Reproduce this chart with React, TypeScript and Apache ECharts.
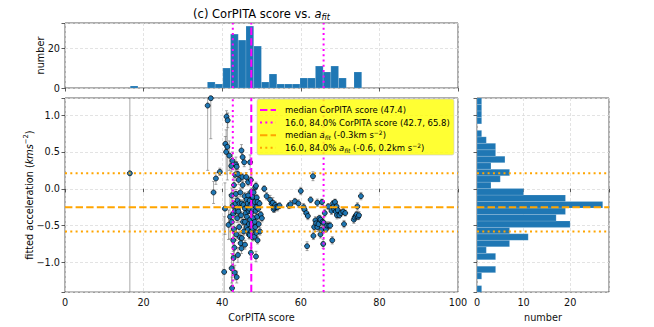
import React, { useEffect, useRef } from "react";
import * as echarts from "echarts";

// ---------- data ----------
const scoreRange = [0, 100];
const accelRange = [-1.404, 1.233];

const scoreBinMin = 16.6;
const scoreBinMax = 75.5;
const scoreCounts = [1, 0, 0, 0, 0, 0, 0, 0, 0, 0, 3, 2, 10, 27, 24, 31, 21, 3, 7, 2, 2, 2, 5, 5, 11, 8, 11, 5, 0, 8];

const accelBinMin = -1.404;
const accelBinMax = 1.233;
// bottom (most negative) to top
const accelCounts = [1, 0, 1, 4, 0, 4, 2, 7, 11, 7, 20, 17, 19, 27, 19, 10, 3, 5, 7, 3, 6, 4, 4, 2, 1, 0, 1, 1, 1, 1];

const scoreMedian = 47.4;
const scorePercentiles = [42.7, 65.8];
const accelMedian = -0.25;
const accelPercentiles = [-0.58, 0.21];

// [score, fitted acceleration, error]
const outlierPoints: number[][] = [
  [16.5, 0.21, 1.8], [36.3, 1.13, 0.88], [37.1, 1.23, 0.55], [37.8, -0.05, 0.15], [38.4, 0.14, 0.08], [39.4, 0.23, 0.05],
];
const cluster40Points: number[][] = [
  [40.5, -1.13, 0.75], [40.7, -0.27, 0.35], [40.8, 0.61, 0.1], [41.0, 0.5, 0.3], [41.1, 0.98, 0.08], [41.3, 0.57, 0.45],
  [41.4, 0.93, 0.1], [41.6, -0.49, 0.2], [41.8, 0.45, 0.2], [42.0, -0.38, 0.3],
];
const cluster42Points: number[][] = [
  [42.3, 0.31, 0.08], [42.4, -0.09, 0.1], [42.4, -0.45, 0.12], [42.4, -1.08, 0.2], [42.5, -1.35, 0.15], [42.6, 0.38, 0.12],
  [42.7, -0.23, 0.1], [42.8, -0.34, 0.08], [42.8, -0.7, 0.15], [42.9, -0.94, 0.12], [43.0, 0.05, 0.1], [43.0, -0.55, 0.1],
  [43.1, -0.8, 0.12], [43.2, -1.14, 0.1], [43.3, 0.19, 0.08], [43.3, -0.3, 0.08], [43.4, -0.2, 0.07], [43.5, 0.33, 0.1],
  [43.5, -0.07, 0.06], [43.6, -0.62, 0.08], [43.7, 0.3, 0.07], [43.7, -1.2, 0.08], [43.8, -0.4, 0.06], [43.9, -0.16, 0.05],
  [44.0, 0.2, 0.06], [44.0, -0.28, 0.06], [44.0, -0.9, 0.1],
];
const cluster44Points: number[][] = [
  [44.1, -0.31, 0.06], [44.2, 0.12, 0.06], [44.3, -0.52, 0.08], [44.4, -0.2, 0.05], [44.5, -0.66, 0.07], [44.6, -0.05, 0.06],
  [44.7, -0.74, 0.08], [44.8, -0.36, 0.05], [44.9, 0.52, 0.08], [44.9, -0.81, 0.07], [45.0, -0.2, 0.05], [45.0, -0.67, 0.06],
  [45.1, 0.16, 0.05], [45.2, 0.43, 0.07], [45.2, 0.05, 0.05], [45.3, -0.45, 0.05], [45.4, -0.22, 0.05], [45.5, -0.58, 0.05],
  [45.6, 0.36, 0.06], [45.7, -0.1, 0.05], [45.8, -0.27, 0.05], [45.8, -0.45, 0.06], [45.8, -0.76, 0.06], [46.0, -0.33, 0.05],
];
const cluster46Points: number[][] = [
  [46.1, 0.16, 0.06], [46.2, -0.52, 0.05], [46.2, -0.15, 0.05], [46.3, -0.38, 0.05], [46.4, -0.24, 0.04], [46.5, -0.2, 0.05],
  [46.5, -0.56, 0.05], [46.6, -0.09, 0.05], [46.6, 0.09, 0.05], [46.7, -0.3, 0.04], [46.8, -0.48, 0.05], [46.8, -0.62, 0.06],
  [46.9, -0.27, 0.04], [47.0, -0.16, 0.05], [47.0, -0.63, 0.05], [47.1, 0.36, 0.1], [47.1, -0.42, 0.05], [47.2, -0.22, 0.04],
  [47.3, 0.12, 0.05], [47.3, -0.87, 0.07], [47.4, -0.04, 0.05], [47.4, -0.58, 0.05], [47.5, -0.32, 0.04], [47.5, -0.48, 0.04],
  [47.6, -0.2, 0.04], [47.7, -0.12, 0.04], [47.7, -0.66, 0.05], [47.8, -0.11, 0.05], [47.8, -0.54, 0.05], [47.9, -0.28, 0.04],
  [47.9, -0.4, 0.04],
];
const cluster48Points: number[][] = [
  [48.0, -0.05, 0.05], [48.1, -0.22, 0.04], [48.2, -0.65, 0.05], [48.3, -0.18, 0.05], [48.3, -0.45, 0.04], [48.4, -0.52, 0.05],
  [48.4, 0.02, 0.04], [48.5, -0.3, 0.04], [48.6, 0.04, 0.05], [48.6, -0.92, 0.07], [48.7, -0.25, 0.04], [48.7, -0.6, 0.05],
  [48.8, -0.12, 0.04], [48.9, -0.38, 0.04], [49.0, -0.18, 0.04], [49.0, -0.7, 0.05], [49.2, -0.27, 0.04], [49.3, -0.48, 0.05],
  [49.5, -0.2, 0.04], [49.6, -0.58, 0.05], [49.8, -0.35, 0.04],
];
const highScorePoints: number[][] = [
  [50.1, -0.4, 0.05], [50.7, 0.0, 0.04], [51.3, -0.1, 0.05],
  [52.2, -0.15, 0.06], [52.6, -0.2, 0.05], [52.9, -0.19, 0.07], [53.1, -0.28, 0.04], [53.3, -0.26, 0.06], [53.5, -0.22, 0.05], [53.7, -0.25, 0.05],
  [54.1, -0.25, 0.05], [54.6, -0.23, 0.04], [57.0, -0.23, 0.04], [57.4, -0.21, 0.05], [58.5, -0.17, 0.04], [59.4, -0.2, 0.05],
  [60.0, -0.03, 0.05], [60.7, -0.25, 0.05], [60.9, -0.28, 0.06], [61.4, -0.33, 0.05], [61.6, -0.78, 0.06],
  [61.8, -0.37, 0.05], [62.5, -0.15, 0.04], [63.1, 0.17, 0.06], [63.2, -0.64, 0.05], [63.4, -0.52, 0.05],
  [63.7, -0.43, 0.05], [63.9, -0.47, 0.04], [64.2, -0.19, 0.05], [64.2, -0.52, 0.06], [64.5, -0.48, 0.05], [64.7, -0.4, 0.04],
  [65.0, -0.42, 0.05], [65.0, -0.62, 0.05], [65.2, -0.56, 0.05], [65.4, -0.18, 0.04], [65.5, -0.45, 0.05],
  [65.7, -0.75, 0.06], [65.8, -0.46, 0.05], [66.1, -0.33, 0.05], [66.4, -0.55, 0.04], [66.7, -0.5, 0.05], [67.0, -0.24, 0.04],
  [67.2, -0.5, 0.05], [67.5, -0.5, 0.04],
  [67.8, -0.3, 0.05], [68.0, -0.7, 0.05], [68.2, -0.2, 0.04], [68.3, -0.24, 0.05], [68.5, -0.28, 0.04], [68.7, -0.18, 0.04],
  [68.9, -0.31, 0.05], [69.0, -0.26, 0.04], [69.1, -0.24, 0.04], [69.2, -0.36, 0.05], [69.4, -0.29, 0.04],
  [69.8, -0.36, 0.04], [70.2, -0.33, 0.05], [70.8, -0.31, 0.04], [71.0, -0.48, 0.05], [71.3, -0.33, 0.04],
  [73.5, -0.42, 0.05], [73.7, -0.39, 0.04], [74.0, -0.37, 0.05], [74.2, -0.35, 0.04], [74.4, -0.24, 0.05], [74.6, -0.38, 0.04],
  [74.8, -0.36, 0.05], [75.3, -0.1, 0.05],
];

const scoreTicks = [0, 20, 40, 60, 80, 100];
const accelTickStep = 0.5;
const topCountTicks = [0, 20];
const rightCountTicks = [0, 10, 20];

// ---------- styling ----------
const FONT = "DejaVu Sans";
const BLUE = "#1f77b4";
const MAGENTA = "#ff00ff";
const ORANGE = "#ffa500";
const DASH = [7.4, 3.2];
const DOT = [2, 3.3];

function histBins(min: number, max: number, counts: number[]) {
  const w = (max - min) / counts.length;
  return counts
    .map((c, i) => [min + i * w, min + (i + 1) * w, c])
    .filter((d) => d[2] > 0);
}

function fmtMinus(s: string) {
  return s.replace("-", "\u2212");
}

const richMath = (size: number) => ({
  n: { fontSize: size, fontFamily: FONT, color: "#000", lineHeight: size * 1.35 },
  i: { fontSize: size, fontFamily: FONT, fontStyle: "italic", color: "#000", lineHeight: size * 1.35 },
  s: { fontSize: size * 0.7, fontFamily: FONT, fontStyle: "italic", color: "#000", verticalAlign: "bottom", lineHeight: size * 0.75 },
  sup: { fontSize: size * 0.7, fontFamily: FONT, color: "#000", verticalAlign: "top", lineHeight: size * 0.75 },
});

export default function App() {
  const ref = useRef<HTMLDivElement>(null);

  useEffect(() => {
    if (!ref.current) return;
    const chart = echarts.init(ref.current, undefined, { renderer: "svg" });

    const points = [
      ...outlierPoints, ...cluster40Points, ...cluster42Points, ...cluster44Points,
      ...cluster46Points, ...cluster48Points, ...highScorePoints,
    ];
    const topMax = Math.max(...scoreCounts) * 1.05;
    const rightMax = Math.max(...accelCounts) * 1.05;

    const gridLine = { show: true, lineStyle: { color: "#dcdcdc", width: 0.8, type: [3, 2] as any } };
    const tick = { show: true, length: 3.5, lineStyle: { color: "#333", width: 0.8 } };
    const label = { fontFamily: FONT, fontSize: 9.7, color: "#111" };
    const isMult = (v: number, step: number) => Math.abs(v / step - Math.round(v / step)) < 1e-6;

    const errStyle = { stroke: "rgba(110,110,110,0.75)", lineWidth: 0.8 };

    const refLine = (xi: number, yi: number, data: number[][], color: string, dash: number[]) => ({
      type: "line",
      xAxisIndex: xi,
      yAxisIndex: yi,
      data,
      symbol: "none",
      silent: true,
      animation: false,
      z: 6,
      lineStyle: { color, width: 2, type: dash, cap: "butt" },
    });

    const histRender = (horizontal: boolean) => (params: any, api: any) => {
      const lo = api.value(0), hi = api.value(1), c = api.value(2);
      const a = horizontal ? api.coord([0, hi]) : api.coord([lo, c]);
      const b = horizontal ? api.coord([c, lo]) : api.coord([hi, 0]);
      return {
        type: "rect",
        shape: { x: a[0], y: a[1], width: b[0] - a[0], height: b[1] - a[1] },
        style: { fill: BLUE, stroke: "rgba(255,255,255,0.3)", lineWidth: 0.5 },
      };
    };

    const legendRows = [
      { text: `median CorPITA score (${scoreMedian.toFixed(1)})`, color: MAGENTA, dash: DASH },
      { text: `16.0, 84.0% CorPITA score (${scorePercentiles[0].toFixed(1)}, ${scorePercentiles[1].toFixed(1)})`, color: MAGENTA, dash: DOT },
      { text: `{n|median }{i|a}{s|fit}{n| (${accelMedian.toFixed(1)}km s}{sup|\u22122}{n|)}`, color: ORANGE, dash: DASH },
      { text: `{n|16.0, 84.0% }{i|a}{s|fit}{n| (${accelPercentiles[0].toFixed(1)}, ${accelPercentiles[1].toFixed(1)}km s}{sup|\u22122}{n|)}`, color: ORANGE, dash: DOT },
    ];
    const legendTop = 99;
    const rowH = 12.6;
    const legendGraphics: any[] = [
      {
        type: "rect",
        z: 100,
        shape: { x: 257, y: legendTop, width: 197, height: 56, r: 2 },
        style: { fill: "rgba(255,255,0,0.8)", stroke: "rgba(204,204,204,0.8)", lineWidth: 0.8 },
      },
    ];
    legendRows.forEach((r, i) => {
      const cy = legendTop + 11 + i * rowH;
      legendGraphics.push({
        type: "line",
        z: 101,
        shape: { x1: 260, y1: cy, x2: 276, y2: cy },
        style: { stroke: r.color, lineWidth: 2, lineDash: r.dash },
      });
      legendGraphics.push({
        type: "text",
        z: 101,
        x: 285,
        y: cy,
        style: {
          text: r.text.startsWith("{") ? r.text : `{n|${r.text}}`,
          rich: richMath(8.5),
          fontFamily: FONT,
          fontSize: 8.5,
          align: "left",
          verticalAlign: "middle",
        },
      });
    });

    chart.setOption({
      animation: false,
      backgroundColor: "#ffffff",
      textStyle: { fontFamily: FONT },
      grid: [
        { left: 65, top: 23, width: 393, height: 65, show: true, borderColor: "#333", borderWidth: 0.8, backgroundColor: "transparent" },
        { left: 65, top: 98, width: 393, height: 196, show: true, borderColor: "#333", borderWidth: 0.8, backgroundColor: "transparent" },
        { left: 477, top: 98, width: 132, height: 196, show: true, borderColor: "#333", borderWidth: 0.8, backgroundColor: "transparent" },
      ],
      xAxis: [
        {
          gridIndex: 0, type: "value", min: scoreRange[0], max: scoreRange[1], interval: scoreTicks[1] - scoreTicks[0],
          axisLine: { show: false }, axisTick: tick, axisLabel: { show: false }, splitLine: gridLine,
        },
        {
          gridIndex: 1, type: "value", min: scoreRange[0], max: scoreRange[1], interval: scoreTicks[1] - scoreTicks[0],
          axisLine: { show: false }, axisTick: tick, splitLine: gridLine,
          axisLabel: { ...label, margin: 5 },
          name: "CorPITA score", nameLocation: "middle", nameGap: 15,
          nameTextStyle: { ...label, verticalAlign: "top" },
        },
        {
          gridIndex: 2, type: "value", min: 0, max: rightMax, interval: rightCountTicks[1] - rightCountTicks[0],
          axisLine: { show: false }, axisTick: tick, splitLine: gridLine,
          axisLabel: { ...label, margin: 5, formatter: (v: number) => (isMult(v, 10) ? String(v) : "") },
          name: "number", nameLocation: "middle", nameGap: 15,
          nameTextStyle: { ...label, verticalAlign: "top" },
        },
      ],
      yAxis: [
        {
          gridIndex: 0, type: "value", min: 0, max: topMax, interval: topCountTicks[1] - topCountTicks[0],
          axisLine: { show: false }, axisTick: tick, splitLine: gridLine,
          axisLabel: { ...label, margin: 5, formatter: (v: number) => (isMult(v, 20) ? String(v) : "") },
          name: "number", nameLocation: "middle", nameGap: 20, nameMoveOverlap: false,
          nameTextStyle: { ...label },
        },
        {
          gridIndex: 1, type: "value", min: accelRange[0], max: accelRange[1], splitNumber: 5,
          axisLine: { show: false }, axisTick: tick, splitLine: gridLine,
          axisLabel: {
            ...label, margin: 5,
            formatter: (v: number) => (isMult(v, accelTickStep) ? fmtMinus(v.toFixed(1)) : ""),
          },
          name: "{n|fitted acceleration (}{i|kms}{sup|\u22122}{n|)}",
          nameLocation: "middle", nameGap: 29, nameMoveOverlap: false,
          nameTextStyle: { ...label, rich: richMath(9.7) },
        },
        {
          gridIndex: 2, type: "value", min: accelRange[0], max: accelRange[1], splitNumber: 5,
          axisLine: { show: false }, axisTick: tick, splitLine: gridLine,
          axisLabel: { show: false },
        },
      ],
      graphic: [
        {
          type: "text",
          x: 261.5,
          y: 14,
          style: {
            text: "{n|(c) CorPITA score vs. }{i|a}{s|fit}",
            rich: richMath(11.5),
            fontFamily: FONT,
            fontSize: 11.5,
            align: "center",
            verticalAlign: "middle",
          },
        },
        ...legendGraphics,
      ],
      series: [
        {
          type: "custom",
          xAxisIndex: 0, yAxisIndex: 0,
          data: histBins(scoreBinMin, scoreBinMax, scoreCounts),
          renderItem: histRender(false),
          z: 2, silent: true,
        },
        {
          type: "custom",
          xAxisIndex: 2, yAxisIndex: 2,
          data: histBins(accelBinMin, accelBinMax, accelCounts),
          renderItem: histRender(true),
          z: 2, silent: true,
        },
        {
          type: "custom",
          xAxisIndex: 1, yAxisIndex: 1,
          data: points,
          z: 3, silent: true,
          renderItem: (params: any, api: any) => {
            const x = api.value(0), y = api.value(1), e = api.value(2);
            const lo = Math.max(y - e, accelRange[0]);
            const hi = Math.min(y + e, accelRange[1]);
            const a = api.coord([x, lo]);
            const b = api.coord([x, hi]);
            const children: any[] = [
              { type: "line", shape: { x1: a[0], y1: a[1], x2: b[0], y2: b[1] }, style: errStyle },
            ];
            if (y - e >= accelRange[0]) children.push({ type: "line", shape: { x1: a[0] - 1.5, y1: a[1], x2: a[0] + 1.5, y2: a[1] }, style: errStyle });
            if (y + e <= accelRange[1]) children.push({ type: "line", shape: { x1: b[0] - 1.5, y1: b[1], x2: b[0] + 1.5, y2: b[1] }, style: errStyle });
            return { type: "group", children };
          },
        },
        {
          type: "scatter",
          xAxisIndex: 1, yAxisIndex: 1,
          data: points.map((p) => [p[0], p[1]]),
          symbol: "circle",
          symbolSize: 5,
          itemStyle: { color: BLUE, borderColor: "#000", borderWidth: 0.7, opacity: 1 },
          z: 4, silent: true, clip: true,
        },
        refLine(0, 0, [[scoreMedian, 0], [scoreMedian, topMax]], MAGENTA, DASH),
        refLine(0, 0, [[scorePercentiles[0], 0], [scorePercentiles[0], topMax]], MAGENTA, DOT),
        refLine(0, 0, [[scorePercentiles[1], 0], [scorePercentiles[1], topMax]], MAGENTA, DOT),
        refLine(1, 1, [[scoreMedian, accelRange[0]], [scoreMedian, accelRange[1]]], MAGENTA, DASH),
        refLine(1, 1, [[scorePercentiles[0], accelRange[0]], [scorePercentiles[0], accelRange[1]]], MAGENTA, DOT),
        refLine(1, 1, [[scorePercentiles[1], accelRange[0]], [scorePercentiles[1], accelRange[1]]], MAGENTA, DOT),
        refLine(1, 1, [[scoreRange[0], accelMedian], [scoreRange[1], accelMedian]], ORANGE, DASH),
        refLine(1, 1, [[scoreRange[0], accelPercentiles[0]], [scoreRange[1], accelPercentiles[0]]], ORANGE, DOT),
        refLine(1, 1, [[scoreRange[0], accelPercentiles[1]], [scoreRange[1], accelPercentiles[1]]], ORANGE, DOT),
        refLine(2, 2, [[0, accelMedian], [rightMax, accelMedian]], ORANGE, DASH),
        refLine(2, 2, [[0, accelPercentiles[0]], [rightMax, accelPercentiles[0]]], ORANGE, DOT),
        refLine(2, 2, [[0, accelPercentiles[1]], [rightMax, accelPercentiles[1]]], ORANGE, DOT),
      ],
    });

    return () => chart.dispose();
  }, []);

  return (
    <div
      ref={ref}
      style={{ position: "absolute", left: 0, top: 0, width: 654, height: 327, background: "#fff" }}
    />
  );
}
